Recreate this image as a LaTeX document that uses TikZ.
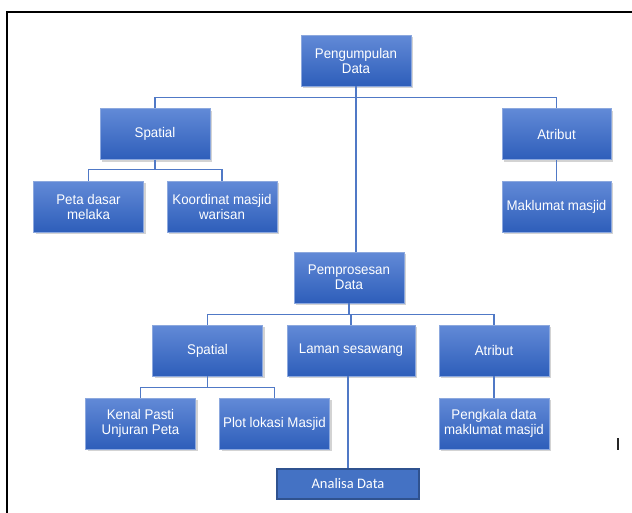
\documentclass[tikz,border=0pt]{standalone}
\usepackage{fontspec}
\setmainfont{Liberation Sans}
\newfontfamily\boxfont[FakeStretch=0.95]{Liberation Sans}
\newfontfamily\analisafont{Carlito}
\usetikzlibrary{positioning,shadows}
\definecolor{fdtop}{HTML}{628AD7}
\definecolor{fdbottom}{HTML}{2E5EBA}
\definecolor{fdedge}{HTML}{8CA8DE}
\definecolor{fdlink}{HTML}{5079C6}
\definecolor{fdflat}{HTML}{4472C4}
\definecolor{fddark}{HTML}{2F528F}
\tikzset{
  fd box/.style={draw=fdedge, line width=0.7pt, top color=fdtop, bottom color=fdbottom,
    text=white, minimum width=110pt, minimum height=51pt, align=center, inner sep=2pt,
    font=\boxfont\fontsize{14}{15}\selectfont,
    drop shadow={opacity=0.35, shadow xshift=2pt, shadow yshift=-2pt}},
  fd flat/.style={draw=fddark, line width=1.2pt, fill=fdflat, text=white,
    minimum width=142pt, minimum height=30pt, align=center,
    font=\analisafont\fontsize{14.5}{16}\selectfont},
  fd link/.style={draw=fdlink, line width=1.1pt},
  fd frame/.style={draw=black, line width=2.5pt}
}
\begin{document}
\begin{tikzpicture}[x=1pt, y=-1pt]
  \useasboundingbox (0,0) rectangle (632,512);
  \draw[fd frame] (7,514) -- (7,12) -- (634,12);
  % pengumpulan
  \node[fd box] (pengumpulan) at (356,60.5) {Pengumpulan\\Data};
  \node[fd box] (spatialA) at (155,134) {Spatial};
  \node[fd box, minimum width=109pt] (atributA) at (556.5,134) {Atribut};
  \node[fd box] (peta) at (88.5,206.5) {Peta dasar\\melaka};
  \node[fd box] (koordinat) at (222,206.5) {Koordinat masjid\\warisan};
  \node[fd box, minimum width=109pt] (maklumat) at (556.5,206.5) {Maklumat masjid};
  % pemprosesan
  \node[fd box] (pemprosesan) at (349,277.5) {Pemprosesan\\Data};
  \node[fd box] (spatialB) at (207.5,350.5) {Spatial};
  \node[fd box, minimum width=128pt] (laman) at (351,350.5) {Laman sesawang};
  \node[fd box] (atributB) at (494,350.5) {Atribut};
  \node[fd box] (kenal) at (140.5,423.5) {Kenal Pasti\\Unjuran Peta};
  \node[fd box] (plot) at (274.5,423.5) {Plot lokasi Masjid};
  \node[fd box] (pengkala) at (494,423.5) {Pengkala data\\maklumat masjid};
  \node[fd flat] (analisa) at (348,484) {Analisa Data};
  % connectors
  \foreach \child in {spatialA,atributA} {\draw[fd link] (pengumpulan.south) -- ++(0,11) -| (\child.north);}
  \foreach \child in {peta,koordinat} {\draw[fd link] (spatialA.south) -- ++(0,10) -| (\child.north);}
  \draw[fd link] (atributA.south) -- (maklumat.north);
  \draw[fd link] (pengumpulan.south) -- (pengumpulan.south |- pemprosesan.north);
  \foreach \child in {spatialB,laman,atributB} {\draw[fd link] (pemprosesan.south) -- ++(0,11) -| (\child.north);}
  \foreach \child in {kenal,plot} {\draw[fd link] (spatialB.south) -- ++(0,11) -| (\child.north);}
  \draw[fd link] (atributB.south) -- (pengkala.north);
  \draw[fd link] (analisa.north) -- (analisa.north |- laman.south);
  \draw[black!85, line width=1.3pt] (618,438) -- (618,450);
\end{tikzpicture}
\end{document}
